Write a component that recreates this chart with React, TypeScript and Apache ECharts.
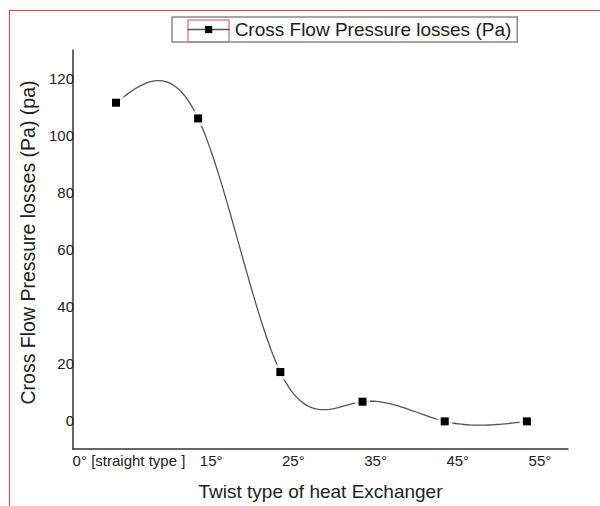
import React, { useEffect, useRef } from "react";
import * as echarts from "echarts";

const twistLabels = ["0° [straight type ]", "15°", "25°", "35°", "45°", "55°"];
const pressureLoss = [111.5, 106, 17, 6.6, -0.3, -0.3];
const yTickValues = [0, 20, 40, 60, 80, 100, 120];
const seriesName = "Cross Flow Pressure losses (Pa)";

// natural cubic spline second derivatives (unit spacing)
function naturalSplineM(ys: number[]): number[] {
  const n = ys.length;
  const M = new Array(n).fill(0);
  if (n < 3) return M;
  const c: number[] = new Array(n).fill(0);
  const d: number[] = new Array(n).fill(0);
  for (let i = 1; i < n - 1; i++) {
    const rhs = 6 * (ys[i + 1] - 2 * ys[i] + ys[i - 1]);
    const denom = 4 - (i > 1 ? c[i - 1] : 0);
    c[i] = 1 / denom;
    d[i] = (rhs - (i > 1 ? d[i - 1] : 0)) / denom;
  }
  for (let i = n - 2; i >= 1; i--) {
    M[i] = d[i] - c[i] * (i < n - 2 ? M[i + 1] : 0);
  }
  return M;
}

export default function App() {
  const ref = useRef<HTMLDivElement>(null);
  useEffect(() => {
    if (!ref.current) return;
    const chart = echarts.init(ref.current, undefined, { renderer: "svg" });
    const pts = pressureLoss.map((v, i) => [i, v]);
    const M = naturalSplineM(pressureLoss);
    const font = "'Liberation Sans', Arial, sans-serif";
    chart.setOption({
      animation: false,
      backgroundColor: "#fff",
      textStyle: { fontFamily: font },
      grid: { left: 73, right: 32, top: 50, bottom: 55, containLabel: false },
      legend: {
        left: 172,
        top: 17,
        data: [seriesName],
        padding: [3, 6, 3, 15],
        borderColor: "#8a8a8a",
        borderWidth: 1.5,
        itemWidth: 42,
        itemHeight: 9,
        textStyle: { fontSize: 19, color: "#222", fontFamily: font },
        lineStyle: { opacity: 1, color: "#555", width: 1.3 },
      },
      xAxis: {
        type: "value",
        min: -0.523,
        max: 5.5,
        name: "Twist type of heat Exchanger",
        nameLocation: "middle",
        nameGap: 33,
        nameTextStyle: { fontSize: 19, color: "#222", fontFamily: font },
        axisLine: { show: true, onZero: false, lineStyle: { color: "#333", width: 1.5 } },
        axisTick: { show: false },
        splitLine: { show: false },
        axisLabel: {
          customValues: [0, 1, 2, 3, 4, 5],
          formatter: (v: number) => twistLabels[Math.round(v)] ?? "",
          fontSize: 15,
          color: "#222",
          margin: 4,
          padding: [0, 0, 0, 26],
          fontFamily: font,
        },
      },
      yAxis: {
        type: "value",
        min: -10,
        max: 130,
        name: "Cross Flow Pressure losses (Pa) (pa)",
        nameLocation: "middle",
        nameGap: 31,
        nameTextStyle: { fontSize: 19.5, color: "#222", fontFamily: font, padding: [0, 0, 0, 14] },
        axisLine: { show: true, onZero: false, lineStyle: { color: "#333", width: 1.5 } },
        axisTick: { show: false },
        splitLine: { show: false },
        axisLabel: {
          customValues: yTickValues,
          fontSize: 15,
          color: "#222",
          margin: -1,
          fontFamily: font,
        },
      },
      graphic: [
        { type: "line", shape: { x1: 10, y1: 10.5, x2: 600, y2: 10.5 }, style: { stroke: "#e04040", lineWidth: 1 } },
        { type: "line", shape: { x1: 9.5, y1: 10, x2: 9.5, y2: 506 }, style: { stroke: "#e04040", lineWidth: 1 } },
        { type: "rect", shape: { x: 188, y: 20, width: 41, height: 22 }, style: { stroke: "#e04040", fill: "none", lineWidth: 1 } },
        { type: "line", shape: { x1: 189, y1: 42, x2: 228, y2: 42 }, style: { stroke: "#a0f0f0", lineWidth: 1 } },
      ],
      series: [
        {
          type: "custom",
          name: "curve",
          data: pts,
          encode: { x: 0, y: 1 },
          z: 1,
          silent: true,
          renderItem: (params: any, api: any) => {
            const i = params.dataIndex;
            if (i >= pressureLoss.length - 1) return null;
            const y0 = pressureLoss[i];
            const y1 = pressureLoss[i + 1];
            const m0 = M[i];
            const m1 = M[i + 1];
            const points: number[][] = [];
            const steps = 30;
            for (let k = 0; k <= steps; k++) {
              const t = k / steps;
              const s = 1 - t;
              const y = s * y0 + t * y1 + (m0 * (s * s * s - s) + m1 * (t * t * t - t)) / 6;
              points.push(api.coord([i + t, y]));
            }
            return {
              type: "polyline",
              shape: { points },
              style: { stroke: "#555", lineWidth: 1.3, fill: null },
            };
          },
        },
        {
          type: "scatter",
          name: "halo",
          data: pts,
          symbol: "rect",
          symbolSize: 15,
          itemStyle: { color: "#fff" },
          z: 2,
          silent: true,
        },
        {
          type: "line",
          name: seriesName,
          data: pts,
          symbol: "rect",
          symbolSize: 8,
          showSymbol: true,
          itemStyle: { color: "#000" },
          lineStyle: { opacity: 0, color: "#555", width: 1.3 },
          z: 3,
        },
      ],
    });
    return () => chart.dispose();
  }, []);
  return (
    <div
      ref={ref}
      style={{ position: "fixed", left: 0, top: 0, width: 600, height: 506 }}
    />
  );
}
